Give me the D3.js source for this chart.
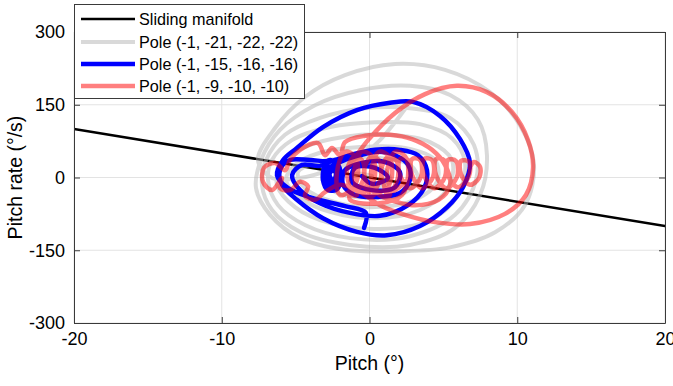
<!DOCTYPE html>
<html>
<head>
<meta charset="utf-8">
<script src="https://cdn.jsdelivr.net/npm/d3@7"></script>
<style>
  body { margin: 0; background: #fff; }
  text { font-family: "Liberation Sans", Arial, Helvetica, sans-serif; fill: #000; }
</style>
</head>
<body>
<svg id="chart" width="673" height="386"></svg>
<script>
// Phase portrait: pitch (deg) vs pitch rate (deg/s)
const xTicks = [-20, -10, 0, 10, 20];
const yTicks = [-300, -150, 0, 150, 300];

const seriesNames = [
  "Sliding manifold",
  "Pole (-1, -21, -22, -22)",
  "Pole (-1, -15, -16, -16)",
  "Pole (-1, -9, -10, -10)"
];

// s = -5*theta sliding line
const manifold = [[-20, 100], [20, -100]];

// Trajectory, poles (-1, -21, -22, -22)
const trajGray = [
  [2.54,147],[1.73,114],[0.71,77],[-0.51,46],[-2.33,20],[-4.70,-1],[-6.60,-1],
  [-7.55,36],[-6.39,102],[-4.37,166],[-1.66,211],[1.73,234],[5.11,222],[8.15,176],
  [10.18,108],[11.13,26],[10.52,-57],[8.50,-113],[5.45,-144],[2.06,-152],[-1.66,-149],
  [-4.70,-125],[-6.73,-77],[-7.68,-22],
  [-7.34,36],[-6.06,98],[-3.69,149],[-0.64,180],[2.74,189],[5.45,170],[7.34,119],
  [7.95,46],[7.48,-36],[5.79,-104],[2.74,-139],[-1.32,-139],[-4.70,-112],[-6.60,-67],[-7.28,-15],
  [-7.00,36],[-5.72,88],[-3.35,123],[-0.30,143],[2.74,143],[5.45,123],[7.07,67],
  [7.21,-5],[5.79,-77],[2.74,-121],[-1.32,-125],[-4.37,-98],[-6.19,-57],[-6.87,-5],
  [-6.60,36],[-5.25,77],[-2.67,104],[0.37,114],[3.42,110],[5.58,81],[6.46,32],
  [5.99,-36],[4.09,-88],[0.71,-106],[-2.67,-94],[-5.04,-61],[-6.26,-15],
  [-5.92,32],[-4.37,63],[-1.66,84],[1.39,88],[4.09,73],[5.58,36],[5.31,-22],
  [3.42,-67],[0.37,-84],[-2.67,-71],[-4.70,-42],[-5.65,-5],
  [-5.04,26],[-3.35,51],[-0.64,63],[2.40,61],[4.43,36],[4.57,-9],[3.08,-46],
  [0.37,-61],[-2.33,-51],[-4.37,-22],[-4.84,11],
  [-3.69,30],[-1.66,40],[0.71,40],[2.74,26],[3.28,-5],[2.06,-36],[-0.30,-42],
  [-2.33,-30],[-3.21,-1],[-2.33,20],[-0.64,26],[1.05,15],[1.39,-9],[0.03,-22],
  [-1.32,-11],[-0.98,7],[0.17,3]
];

// Trajectory, poles (-1, -15, -16, -16)
const trajBlue = [
  [-0.37,-104],[-0.24,-73],[-1.66,-59],[-3.89,-42],[-5.51,-22],[-6.26,5],
  [-5.85,36],[-4.91,61],[-3.15,104],[-0.85,139],[1.39,154],[2.94,156],[4.77,127],
  [6.13,79],[6.80,30],[6.33,-20],[5.25,-61],[3.42,-100],[1.18,-119],[-0.85,-112],
  [-3.15,-84],[-4.91,-46],[-5.92,-15],[-6.06,15],
  [-5.38,36],[-4.03,36],[-2.67,34],[-1.32,46],[0.37,57],[2.06,57],[3.28,46],
  [3.89,15],[3.69,-22],[2.61,-57],[0.71,-79],[-1.32,-73],[-3.35,-53],[-4.70,-26],
  [-5.24,5],[-4.57,26],[-3.35,24],
  [-2.67,36],[-2.13,26],[-1.93,1],[-2.20,-24],[-2.81,-26],[-3.15,-5],[-3.01,24],
  [-2.47,34],[-2.06,15],[-2.13,-11],[-2.67,-18],[-2.88,3],[-2.61,22],[-2.27,7],[-2.47,-7],
  [-2.74,11],[-2.40,20],[-2.20,-1],[-2.54,-13],[-2.81,-3],[-2.61,13],[-2.33,28],
  [-2.00,11],[-2.06,-18],[-2.94,-20],[-3.08,11],
  [-1.66,36],[-0.64,46],[0.58,53],[1.73,46],[2.61,26],[2.74,-5],[2.06,-32],
  [0.58,-40],[-0.98,-36],[-1.79,-15],[-1.66,15],[-0.51,30],[1.05,32],[2.06,11],
  [1.73,-20],[0.17,-26],[-1.18,-9],[-0.98,20],[0.37,20],[1.25,-1],[0.17,-13],[-0.51,3]
];

// Trajectory, poles (-1, -9, -10, -10)
const trajRed = [
  [-1.32,26],[-0.10,77],[1.73,133],[3.76,172],[5.92,189],[7.95,176],[9.64,135],
  [10.73,77],[11.07,20],[10.59,-36],[9.17,-75],[6.80,-96],[4.43,-92],[2.40,-77],
  [0.71,-57],[-0.64,-30],[-1.99,-15],
  [-3.01,-30],[-3.69,-46],[-4.37,-38],[-4.16,-18],[-4.70,-9],[-5.38,-26],[-6.06,-22],
  [-5.92,-1],[-6.60,-26],[-7.21,-9],[-7.14,20],[-6.39,30],[-5.72,15],[-5.38,36],
  [-4.70,57],[-3.49,71],[-3.01,46],[-2.54,61],[-1.99,46],[-1.66,73],
  [-0.30,86],[1.39,88],[2.88,79],[4.23,57],[5.11,26],[5.45,-16],[4.67,-46],
  [2.88,-57],[1.05,-42],[-0.51,-18],
  [-2.00,-36],[-2.20,11],[-1.66,53],[-0.98,44],[-0.78,3],[-1.18,-36],
  [-0.85,-36],[-1.05,11],[-0.51,53],[0.17,44],[0.37,3],[-0.03,-36],
  [0.30,-36],[0.10,11],[0.64,53],[1.32,44],[1.52,3],[1.12,-36],
  [1.39,-36],[1.18,11],[1.73,53],[2.40,44],[2.61,3],[2.20,-36],
  [0.71,-53],[-1.32,-46],
  [-1.32,-26],[-1.52,15],[-1.05,42],[-0.51,36],[-0.37,1],[-0.71,-28],
  [-0.17,-26],[-0.37,15],[0.10,42],[0.64,36],[0.78,1],[0.44,-28],
  [0.98,-26],[0.78,15],[1.25,42],[1.79,36],[1.93,1],[1.59,-28],
  [1.93,-22],[2.67,1],[2.61,36],[2.06,38],[2.06,5],[2.74,-22],
  [3.48,1],[3.42,36],[2.88,38],[2.88,5],[3.55,-22],
  [4.30,1],[4.23,36],[3.69,38],[3.69,5],[4.37,-22],
  [5.11,1],[5.04,36],[4.50,38],[4.50,5],[5.18,-22],
  [5.92,1],[5.85,34],[5.31,36],[5.31,5],[5.99,-20],
  [6.73,3],[6.73,32],[6.19,34],[6.19,7],[6.80,-15],
  [7.41,-1],[7.48,22],[7.07,32],[6.80,20]
];

const series = [
  { name: seriesNames[0], data: manifold, color: "#000000", width: 2.5, opacity: 1 },
  { name: seriesNames[1], data: trajGray, color: "#b3b3b3", width: 4, opacity: 0.5 },
  { name: seriesNames[2], data: trajBlue, color: "#0000ff", width: 4.5, opacity: 1 },
  { name: seriesNames[3], data: trajRed, color: "#ff0000", width: 4.5, opacity: 0.5 }
];

const svg = d3.select("#chart");
const margin = { left: 74, right: 8, top: 32, bottom: 63 };
const W = 673, H = 386;
const x = d3.scaleLinear().domain([-20, 20]).range([margin.left, W - margin.right]);
const y = d3.scaleLinear().domain([-300, 300]).range([H - margin.bottom, margin.top]);
const fmt = d => String(d);

svg.append("rect").attr("width", W).attr("height", H).attr("fill", "#fff");

svg.append("defs").append("clipPath").attr("id", "plotClip")
  .append("rect")
  .attr("x", x(-20)).attr("y", y(300))
  .attr("width", x(20) - x(-20)).attr("height", y(-300) - y(300));

// grid
const grid = svg.append("g");
grid.selectAll("line.gx").data(xTicks).join("line")
  .attr("x1", d => x(d)).attr("x2", d => x(d))
  .attr("y1", y(-300)).attr("y2", y(300))
  .attr("stroke", "#e3e3e3").attr("stroke-width", 1);
grid.selectAll("line.gy").data(yTicks).join("line")
  .attr("y1", d => y(d)).attr("y2", d => y(d))
  .attr("x1", x(-20)).attr("x2", x(20))
  .attr("stroke", "#e3e3e3").attr("stroke-width", 1);

// curves
const line = d3.line().x(d => x(d[0])).y(d => y(d[1])).curve(d3.curveCatmullRom.alpha(0.5));
const plot = svg.append("g").attr("clip-path", "url(#plotClip)");
series.forEach(s => {
  plot.append("path")
    .attr("d", line(s.data))
    .attr("fill", "none")
    .attr("stroke", s.color)
    .attr("stroke-width", s.width)
    .attr("stroke-opacity", s.opacity)
    .attr("stroke-linejoin", "round")
    .attr("stroke-linecap", "round");
});

// axes (box with inward ticks on all sides)
const axisColor = "#3a3a3a";
const styleAxis = g => {
  g.select(".domain").attr("stroke", axisColor);
  g.selectAll(".tick line").attr("stroke", axisColor);
  g.selectAll(".tick text").attr("font-size", "18px").attr("fill", "#262626")
    .attr("font-family", "Liberation Sans, Arial, sans-serif");
};
svg.append("g").attr("transform", `translate(0,${y(-300)})`)
  .call(d3.axisBottom(x).tickValues(xTicks).tickFormat(fmt).tickSizeInner(-6).tickSizeOuter(0).tickPadding(9))
  .call(styleAxis);
svg.append("g").attr("transform", `translate(0,${y(300)})`)
  .call(d3.axisTop(x).tickValues(xTicks).tickSizeInner(-6).tickSizeOuter(0).tickFormat(""))
  .call(styleAxis);
svg.append("g").attr("transform", `translate(${x(-20)},0)`)
  .call(d3.axisLeft(y).tickValues(yTicks).tickFormat(fmt).tickSizeInner(-6).tickSizeOuter(0).tickPadding(9))
  .call(styleAxis);
svg.append("g").attr("transform", `translate(${x(20)},0)`)
  .call(d3.axisRight(y).tickValues(yTicks).tickSizeInner(-6).tickSizeOuter(0).tickFormat(""))
  .call(styleAxis);

// axis labels
svg.append("text").attr("x", (x(-20) + x(20)) / 2).attr("y", 370)
  .attr("text-anchor", "middle").attr("font-size", "19.5px").attr("fill", "#262626")
  .text("Pitch (°)");
svg.append("text").attr("transform", `translate(22,${(y(-300) + y(300)) / 2}) rotate(-90)`)
  .attr("text-anchor", "middle").attr("font-size", "19.5px").attr("fill", "#262626")
  .text("Pitch rate (°/s)");

// legend
const lg = svg.append("g");
lg.append("rect").attr("x", 74.5).attr("y", 4.5).attr("width", 230).attr("height", 94)
  .attr("fill", "#fff").attr("stroke", axisColor).attr("stroke-width", 1);
const rowY = [19, 42, 64, 86];
series.forEach((s, i) => {
  lg.append("line").attr("x1", 81).attr("x2", 135).attr("y1", rowY[i]).attr("y2", rowY[i])
    .attr("stroke", s.color).attr("stroke-width", s.width).attr("stroke-opacity", s.opacity);
  lg.append("text").attr("x", 139).attr("y", rowY[i]).attr("dy", "0.35em")
    .attr("font-size", "16.2px").text(s.name);
});
</script>
</body>
</html>
